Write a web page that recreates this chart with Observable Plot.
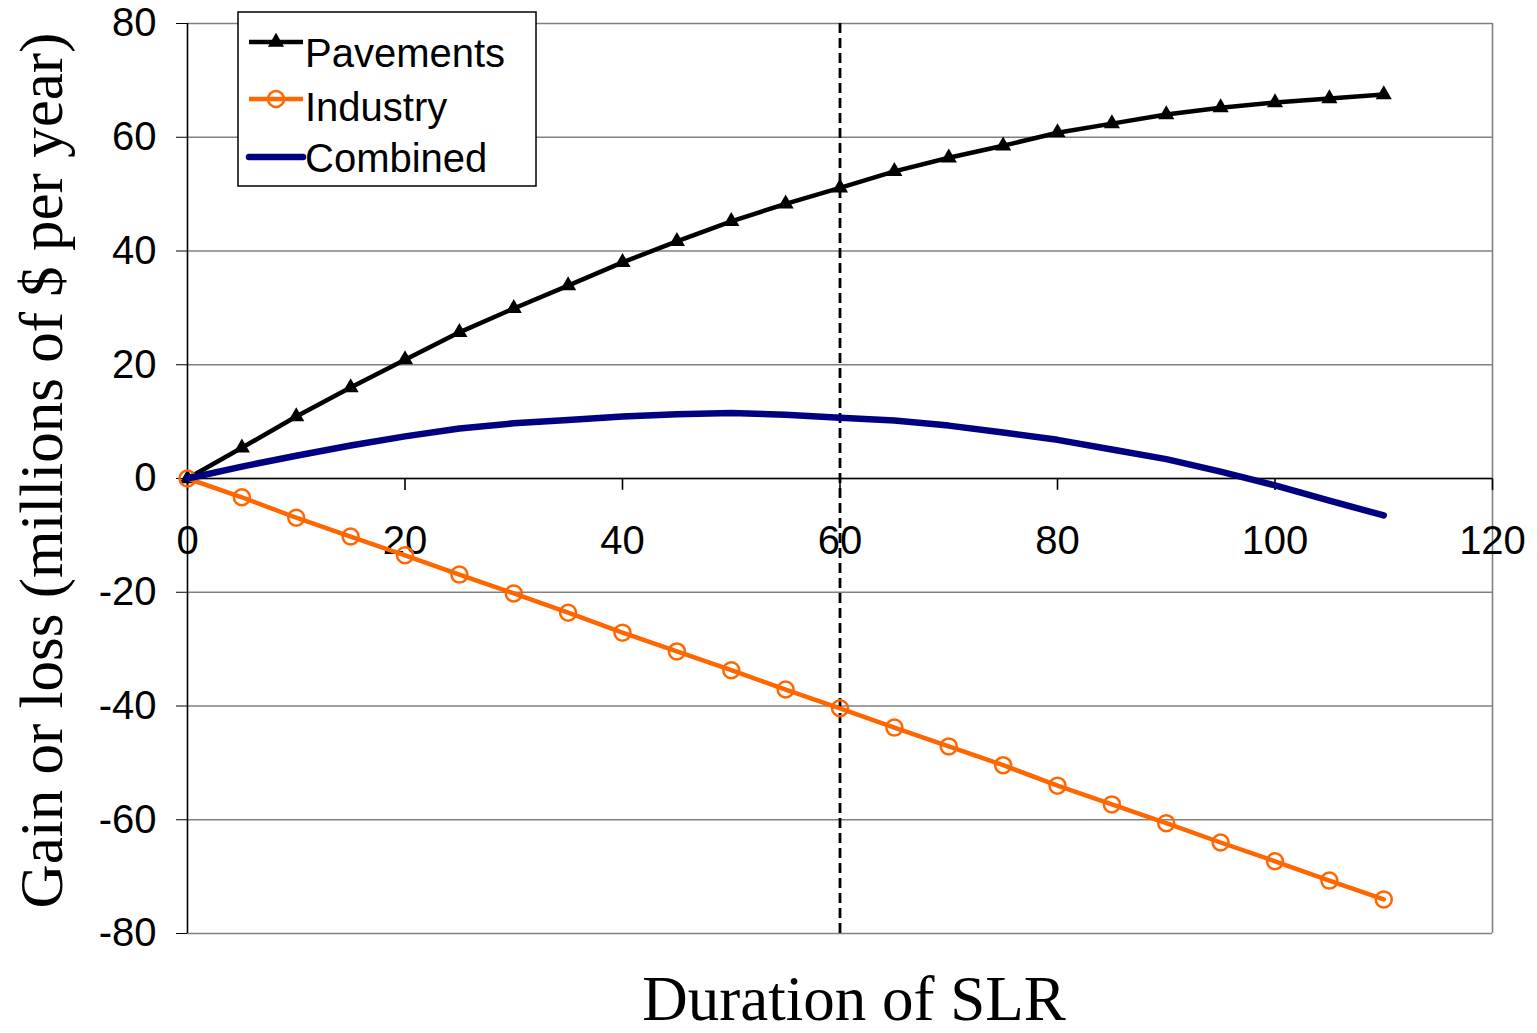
<!DOCTYPE html>
<html>
<head>
<meta charset="utf-8">
<script src="https://cdn.jsdelivr.net/npm/d3@7"></script>
<script src="https://cdn.jsdelivr.net/npm/@observablehq/plot@0.6"></script>
<style>
  html, body { margin: 0; padding: 0; background: #fff; }
  #wrap { position: relative; width: 1537px; height: 1033px; }
  #wrap > svg { position: absolute; left: 0; top: 0; }
</style>
</head>
<body>
<div id="wrap"></div>
<script>
// ---- data ----
const durations = [0,5,10,15,20,25,30,35,40,45,50,55,60,65,70,75,80,85,90,95,100,105,110];
const pavements = [0,5.4,10.9,16.0,20.9,25.7,29.9,33.9,38.0,41.7,45.2,48.3,51.1,54.0,56.4,58.5,60.8,62.4,64.0,65.2,66.1,66.8,67.5];
const industry  = [0,-3.3,-6.9,-10.2,-13.5,-16.9,-20.2,-23.6,-27.1,-30.4,-33.7,-37.1,-40.4,-43.8,-47.1,-50.4,-54.0,-57.3,-60.6,-64.0,-67.3,-70.7,-74.0];
const combined  = [0,2.1,4.0,5.8,7.4,8.8,9.7,10.3,10.9,11.3,11.5,11.2,10.7,10.2,9.3,8.1,6.8,5.1,3.4,1.2,-1.2,-3.9,-6.5];
const xTicks = [0,20,40,60,80,100,120];
const yTicks = [-80,-60,-40,-20,0,20,40,60,80];
const markerX = [60];
const seriesNames = ["Pavements","Industry","Combined"];
const xTitle = "Duration of SLR";
const yTitle = "Gain or loss (millions of $ per year)";

const pav = durations.map((d,i) => ({x: d, y: pavements[i]}));
const ind = durations.map((d,i) => ({x: d, y: industry[i]}));
const com = durations.map((d,i) => ({x: d, y: combined[i]}));

const sans = "Liberation Sans, Arial, sans-serif";
const serif = "Liberation Serif, Times New Roman, serif";
const grid = "#808080";
const orange = "#ff6600";
const navy = "#000080";

const chart = Plot.plot({
  width: 1537,
  height: 1033,
  marginLeft: 187,
  marginRight: 45,
  marginTop: 23,
  marginBottom: 100,
  x: {domain: [0,120], axis: null},
  y: {domain: [-80,80], axis: null},
  style: {fontFamily: sans, background: "white", overflow: "visible"},
  marks: [
    Plot.ruleY(yTicks, {stroke: grid, strokeWidth: 1.6}),
    Plot.ruleX([120], {stroke: grid, strokeWidth: 1.6}),
    Plot.ruleX([0], {stroke: "black", strokeWidth: 1.6}),
    Plot.ruleY([0], {stroke: "black", strokeWidth: 1.6}),
    Plot.axisY({ticks: yTicks, tickSize: 11, tickPadding: 20, fontSize: 40, label: null, tickFormat: d => String(d), fill: "black", stroke: "black"}),
    Plot.link(xTicks, {x1: d => d, x2: d => d, y1: 0, y2: -2, stroke: "black", strokeWidth: 1.6}),
    Plot.text(xTicks, {x: d => d, y: 0, dy: 63, text: d => String(d), fontSize: 40, fill: "black"}),
    Plot.ruleX(markerX, {stroke: "black", strokeWidth: 2.8, strokeDasharray: "10,5"}),
    Plot.line(pav, {x: "x", y: "y", stroke: "black", strokeWidth: 4.5}),
    Plot.dot(pav, {x: "x", y: "y", symbol: "triangle", r: 6, fill: "black", stroke: "none"}),
    Plot.line(ind, {x: "x", y: "y", stroke: orange, strokeWidth: 4.5}),
    Plot.dot(ind, {x: "x", y: "y", r: 8, fill: "none", stroke: orange, strokeWidth: 2.5}),
    Plot.line(com, {x: "x", y: "y", stroke: navy, strokeWidth: 6.5, strokeLinecap: "round"}),
    Plot.text([yTitle], {frameAnchor: "left", dx: -145, dy: -8, rotate: -90, fontSize: 61, fontFamily: serif, fill: "black", textAnchor: "middle"}),
    Plot.text([xTitle], {frameAnchor: "bottom", dx: 14, dy: 86, fontSize: 63, fontFamily: serif, fill: "black", textAnchor: "middle"})
  ]
});
document.getElementById("wrap").appendChild(chart);

// ---- legend (overlay) ----
const leg = d3.select("#wrap").append("svg")
  .attr("width", 1537).attr("height", 1033)
  .style("pointer-events", "none");
leg.append("rect").attr("x", 238).attr("y", 12).attr("width", 298).attr("height", 174)
  .attr("fill", "white").attr("stroke", "black").attr("stroke-width", 1.5);
const rows = [
  {name: seriesNames[0], ly: 42, ty: 67, color: "black", w: 4.5},
  {name: seriesNames[1], ly: 99, ty: 121, color: orange, w: 4.5},
  {name: seriesNames[2], ly: 157, ty: 172, color: navy, w: 6.5}
];
rows.forEach((r, i) => {
  leg.append("line").attr("x1", 249).attr("x2", 303).attr("y1", r.ly).attr("y2", r.ly)
    .attr("stroke", r.color).attr("stroke-width", r.w).attr("stroke-linecap", i === 2 ? "round" : "butt");
  if (i === 0) {
    leg.append("path").attr("d", d3.symbol(d3.symbolTriangle, Math.PI * 36)())
      .attr("transform", `translate(276,${r.ly})`).attr("fill", "black");
  } else if (i === 1) {
    leg.append("circle").attr("cx", 276).attr("cy", r.ly).attr("r", 8)
      .attr("fill", "none").attr("stroke", orange).attr("stroke-width", 2.5);
  }
  leg.append("text").attr("x", 305).attr("y", r.ty).text(r.name)
    .attr("font-family", sans).attr("font-size", 40).attr("fill", "black");
});
</script>
</body>
</html>
